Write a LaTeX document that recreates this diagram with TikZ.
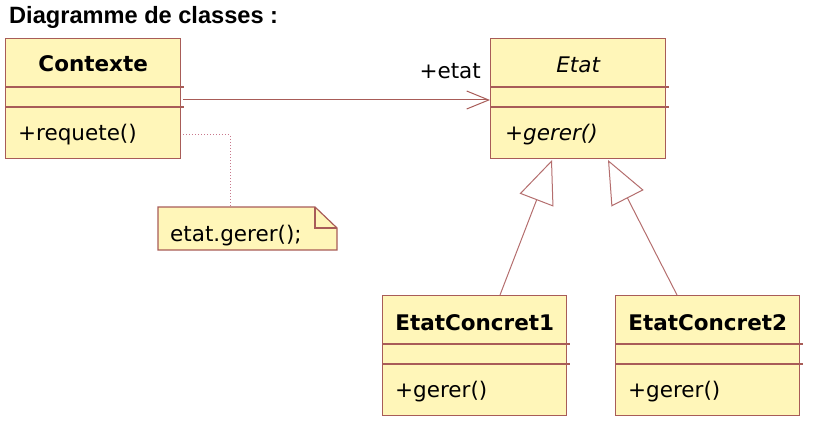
\documentclass[tikz,border=0pt]{standalone}
\usepackage{fontspec}
\setmainfont{DejaVu Sans}
\newfontfamily\titlefont{Liberation Sans}
\usetikzlibrary{arrows.meta,calc}
\definecolor{boxfill}{RGB}{255,246,185}
\definecolor{boxline}{RGB}{168,92,88}
\definecolor{linkline}{RGB}{180,110,110}
\definecolor{noteline}{RGB}{200,120,140}
\begin{document}
\begin{tikzpicture}[x=1pt,y=-1pt,
  classbox/.style={draw=boxline, fill=boxfill, line width=1.4pt, anchor=north west,
    inner sep=0pt, minimum width=175pt, minimum height=120pt},
  sepline/.style={draw=boxline, line width=1.1pt},
  cname/.style={font=\fontsize{21.5}{24}\selectfont\bfseries, anchor=base, inner sep=0pt},
  cnameit/.style={font=\fontsize{21.5}{24}\selectfont\itshape, anchor=base, inner sep=0pt},
  cop/.style={font=\fontsize{21.5}{24}\selectfont, anchor=base west, inner sep=0pt},
  copit/.style={font=\fontsize{21.5}{24}\selectfont\itshape, anchor=base west, inner sep=0pt},
  assoc/.style={draw=boxline, line width=1pt, -{Straight Barb[length=22pt,width=18pt]}},
  gen/.style={draw=linkline, line width=1pt, -{Triangle[length=43pt,width=36pt,fill=white]}},
  anchorline/.style={draw=noteline, line width=1pt, dotted},
  notebox/.style={draw=boxline, fill=boxfill, line width=1.2pt, line join=miter}
]
\useasboundingbox (0,0) rectangle (827,425);

% title
\node[anchor=base west, inner sep=0pt, font=\titlefont\fontsize{23.6}{26}\selectfont\bfseries]
  (title) at (9,24) {Diagramme de classes :};

% Contexte
\node[classbox] (ctx) at (5,38) {};
\draw[sepline] ($(ctx.north west)+(0,49)$) -- ($(ctx.north east)+(3,49)$);
\draw[sepline] ($(ctx.north west)+(0,69)$) -- ($(ctx.north east)+(3,69)$);
\node[cname] (ctxn) at ($(ctx.north)+(0,34)$) {Contexte};
\node[cop] (ctxo) at ($(ctx.north west)+(13,103)$) {+requete()};

% Etat
\node[classbox] (etat) at (490,38) {};
\draw[sepline] ($(etat.north west)+(0,49)$) -- ($(etat.north east)+(3,49)$);
\draw[sepline] ($(etat.north west)+(0,69)$) -- ($(etat.north east)+(3,69)$);
\node[cnameit] (etatn) at ($(etat.north)+(0,35)$) {Etat};
\node[copit] (etato) at ($(etat.north west)+(15,102)$) {+gerer()};

% EtatConcret1
\node[classbox, minimum width=184pt] (ec1) at (382,295) {};
\draw[sepline] ($(ec1.north west)+(0,49)$) -- ($(ec1.north east)+(3,49)$);
\draw[sepline] ($(ec1.north west)+(0,69)$) -- ($(ec1.north east)+(3,69)$);
\node[cname] (ec1n) at ($(ec1.north)+(0,35)$) {EtatConcret1};
\node[cop] (ec1o) at ($(ec1.north west)+(13,102)$) {+gerer()};

% EtatConcret2
\node[classbox, minimum width=184pt] (ec2) at (615,295) {};
\draw[sepline] ($(ec2.north west)+(0,49)$) -- ($(ec2.north east)+(3,49)$);
\draw[sepline] ($(ec2.north west)+(0,69)$) -- ($(ec2.north east)+(3,69)$);
\node[cname] (ec2n) at ($(ec2.north)+(0,35)$) {EtatConcret2};
\node[cop] (ec2o) at ($(ec2.north west)+(13,102)$) {+gerer()};

% note
\coordinate (nNW) at (158,207);
\coordinate (nSE) at (337,250);
\coordinate (nF) at (315,207);
\coordinate (nG) at (337,228);
\path[notebox] (nNW) -- (nF) -- (nG) -- (nSE) -- (nNW |- nSE) -- cycle;
\draw[notebox, fill=none] (nF) -- (nF |- nG) -- (nG);
\node[cop] (notet) at (170,241) {etat.gerer();};

% association
\coordinate (aS) at (183,100);
\coordinate (aT) at (490,100);
\draw[assoc] (aS) -- (aT);
\node[font=\fontsize{21.5}{24}\selectfont, anchor=base east, inner sep=0pt] (role) at (481,79) {+etat};

% note anchor (dotted)
\coordinate (dS) at (183,135);
\coordinate (dC) at (230,135);
\coordinate (dT) at (230,207);
\draw[anchorline] (dS) -- (dC) -- (dT);

% generalizations
\coordinate (g1S) at (500,295);
\coordinate (g1T) at (552,160);
\coordinate (g2S) at (677,295);
\coordinate (g2T) at (608,160);
\draw[gen] (g1S) -- (g1T);
\draw[gen] (g2S) -- (g2T);
\end{tikzpicture}
\end{document}
